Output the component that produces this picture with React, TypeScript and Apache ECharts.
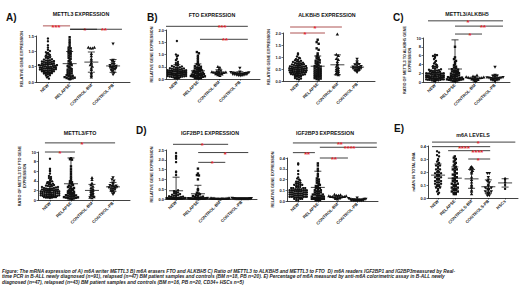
import React, { useEffect, useRef } from "react";
import * as echarts from "echarts";

const FONT = "'Liberation Sans', Arial, sans-serif";
const CATS4 = ["NEW", "RELAPSE", "CONTROL-BM", "CONTROL-PB"];
const CATS5 = ["NEW", "RELAPSE", "CONTROLS-BM", "CONTROLS-PB", "HSCs"];

// A) METTL3 expression
const A_NEW = [0.62,0.45,0.38,0.71,0.55,0.29,0.83,0.47,0.52,0.36,0.66,0.41,0.58,0.33,0.92,0.49,0.27,0.74,0.44,0.61,0.35,1.05,0.53,0.39,0.68,0.22,0.57,0.46,0.8,0.31,0.64,0.5,0.43,0.88,0.37,0.59,0.25,0.97,0.48,0.7,0.34,0.56,0.42,1.12,0.63,0.3,0.77,0.51,0.4,0.18,0.86,0.54,0.45,0.67,0.32,1.2,0.6,0.28,0.73,0.47,0.38,0.95,0.52,0.21,0.65,0.44,1.01,0.35,0.58,0.15,0.79,0.49,0.41,1.33,0.26,0.69,0.55,0.11,0.9,1.42];
const A_REL = [1.46,1.38,1.31,1.25,1.18,1.12,1.1,1.05,1.02,0.98,0.95,0.93,0.9,0.86,0.83,0.79,0.75,0.71,0.68,0.64,0.6,0.58,0.55,0.52,0.5,0.47,0.44,0.42,0.4,0.37,0.35,0.33,0.3,0.28,0.26,0.24,0.22,0.2,0.19,0.17,0.16,0.14,0.13,0.12,0.11,0.1,0.09];
const A_BM = [1.12,1.12,1.1,1.1,0.92,0.85,0.75,0.7,0.62,0.6,0.55,0.5,0.45,0.4,0.3,0.25,0.2,0.15];
const A_PB = [1.25,0.72,0.68,0.65,0.6,0.58,0.55,0.52,0.5,0.5,0.48,0.47,0.45,0.43,0.42,0.4,0.38,0.35,0.3,0.25];

// B) FTO expression
const FTO_NEW = [0.21,0.35,0.12,0.48,0.27,0.08,0.4,0.18,0.3,0.55,0.15,0.24,0.62,0.33,0.05,0.44,0.2,0.28,0.7,0.1,0.37,0.23,0.51,0.14,0.31,0.06,0.42,0.19,0.26,0.83,0.11,0.34,0.58,0.17,0.29,0.04,0.46,0.22,0.38,0.13,0.25,0.65,0.09,0.32,0.2,0.5,0.16,0.27,0.03,0.41,0.23,0.36,0.12,0.92,0.19,0.3,0.07,0.45,0.24,0.15,0.34,0.53,0.1,0.28,0.21,0.39,0.14,1.0,0.26,0.06,0.43,0.18,0.31,0.77,0.13,0.22,0.02,0.36,0.96,1.55];
const FTO_REL = [1.1,1.05,0.95,0.87,0.8,0.72,0.66,0.6,0.56,0.52,0.5,0.47,0.45,0.43,0.41,0.39,0.37,0.35,0.33,0.32,0.3,0.29,0.27,0.26,0.25,0.23,0.22,0.21,0.2,0.18,0.17,0.16,0.15,0.14,0.13,0.12,0.11,0.1,0.09,0.08,0.07,0.06,0.05,0.04,0.03,0.03,0.02];
const FTO_BM = [0.5,0.47,0.4,0.34,0.31,0.29,0.28,0.27,0.26,0.25,0.24,0.24,0.23,0.22,0.2,0.19,0.16,0.13];
const FTO_PB = [0.45,0.3,0.28,0.27,0.26,0.25,0.25,0.24,0.23,0.22,0.22,0.21,0.2,0.2,0.19,0.18,0.17,0.16,0.15,0.13];

// B) ALKBH5 expression
const ALK_NEW = [0.52,0.38,0.71,0.25,0.6,0.45,0.88,0.33,0.55,0.18,0.67,0.42,0.95,0.29,0.5,0.76,0.36,0.62,0.12,0.47,0.82,0.4,0.57,0.22,0.69,0.34,1.02,0.48,0.27,0.63,0.44,0.79,0.3,0.54,0.08,0.73,0.39,0.59,0.2,0.86,0.46,0.35,0.65,0.26,0.51,0.91,0.41,0.15,0.58,0.32,0.75,0.43,0.24,0.68,0.49,1.1,0.37,0.56,0.19,0.8,0.45,0.28,0.61,0.53,0.1,0.72,0.38,0.97,0.31,0.64,0.42,0.23,0.84,0.5,0.35,1.15,0.06,0.7,0.47,0.57];
const ALK_REL = [1.72,1.62,1.55,1.36,1.3,1.15,1.08,1.02,0.98,0.94,0.9,0.87,0.84,0.8,0.77,0.74,0.71,0.68,0.65,0.62,0.6,0.58,0.55,0.53,0.5,0.48,0.46,0.44,0.42,0.4,0.38,0.36,0.34,0.32,0.3,0.28,0.26,0.24,0.22,0.2,0.18,0.16,0.14,0.12,0.1,0.08,0.06];
const ALK_BM = [1.95,1.1,1.05,0.92,0.88,0.8,0.72,0.66,0.6,0.55,0.5,0.46,0.42,0.38,0.33,0.3,0.28,0.25];
const ALK_PB = [0.92,0.81,0.75,0.7,0.68,0.65,0.62,0.6,0.58,0.56,0.55,0.53,0.52,0.5,0.48,0.47,0.45,0.43,0.4,0.37];

// C) METTL3/ALKBH5 ratio
const C_NEW = [1.2,2.1,0.6,1.7,3.0,0.9,2.5,1.4,0.4,1.9,5.8,1.1,2.8,0.7,1.6,3.5,0.5,2.2,1.3,6.1,0.8,1.8,2.6,1.0,4.2,0.3,1.5,2.3,0.9,5.5,1.2,2.0,0.6,3.2,1.7,0.4,2.7,1.1,4.8,0.8,1.4,2.4,0.5,1.9,3.8,1.0,0.7,2.1,5.2,1.3,0.9,2.9,1.6,0.2,2.5,1.2,4.5,0.6,1.8,3.3,1.0,5.9,0.4,1.5,2.2,0.8,1.1,2.0,3.6,0.5,1.7,6.2,0.9,1.4,2.6,0.3,1.3,4.0,0.7,1.9];
const C_REL = [46,8.0,5.6,5.2,4.8,4.5,4.1,3.8,3.5,3.3,3.1,2.9,2.8,2.6,2.5,2.4,2.3,2.2,2.1,2.0,1.9,1.8,1.7,1.6,1.5,1.4,1.3,1.25,1.2,1.1,1.0,0.95,0.9,0.85,0.8,0.75,0.7,0.65,0.6,0.55,0.5,0.45,0.4,0.35,0.3,0.25,0.2];
const C_BM = [1.5,1.3,1.2,1.1,1.05,1.0,0.95,0.9,0.9,0.85,0.8,0.75,0.7,0.6,0.5,0.4,0.3,0.2];
const C_PB = [3.4,1.6,1.4,1.3,1.2,1.1,1.05,1.0,0.95,0.9,0.85,0.8,0.75,0.7,0.6,0.55,0.5,0.4,0.3,0.2];

// C) METTL3/FTO ratio
const MF_NEW = [1.5,2.4,0.8,3.1,1.9,0.5,2.7,1.2,3.6,2.0,0.9,1.6,4.4,2.2,1.0,2.9,0.6,1.8,3.3,1.4,6.2,2.5,0.7,1.7,3.9,1.1,2.1,0.4,2.8,1.3,5.0,1.9,0.9,2.6,1.5,3.4,0.6,2.3,1.2,4.8,1.7,0.8,2.0,3.0,1.4,6.5,0.5,2.4,1.1,1.8,3.7,0.9,2.2,1.6,5.5,1.0,2.7,0.7,1.5,3.2,2.0,1.3,8.6,0.6,2.5,1.8,4.1,1.1,2.9,0.8,1.4,2.1,6.0,1.7,0.5,3.5,1.2,2.3,0.9,4.6];
const MF_REL = [36,8.7,8.5,8.4,7.0,6.4,5.9,5.4,4.9,4.5,4.1,3.9,3.7,3.5,3.3,3.1,3.0,2.8,2.7,2.5,2.4,2.3,2.1,2.0,1.9,1.8,1.7,1.6,1.5,1.4,1.3,1.2,1.1,1.0,0.95,0.9,0.8,0.75,0.7,0.6,0.55,0.5,0.45,0.4,0.35,0.3,0.25];
const MF_BM = [4.6,4.2,3.5,3.1,2.8,2.5,2.3,2.0,1.9,1.7,1.5,1.3,1.2,1.0,0.8,0.6,0.5,0.4];
const MF_PB = [4.7,4.3,4.0,3.6,3.3,3.1,3.0,2.9,2.8,2.7,2.6,2.5,2.4,2.3,2.2,2.0,1.9,1.7,1.5,1.2];

// D) IGF2BP1 expression
const IG1_NEW = [2.35,2.2,2.14,2.05,1.88,1.4,1.36,1.22,0.45,0.4,0.36,0.33,0.3,0.27,0.25,0.22,0.2,0.18,0.16,0.14,0.12,0.11,0.1,0.09,0.08,0.07,0.06,0.05,0.05,0.04,0.04,0.03,0.03,0.03,0.02,0.02,0.02,0.02,0.01,0.01,0.01,0.01,0.01,0.0,0.0];
const IG1_REL = [1.55,1.3,1.22,1.2,1.0,0.5,0.45,0.32,0.28,0.24,0.2,0.17,0.15,0.12,0.1,0.08,0.07,0.06,0.05,0.04,0.04,0.03,0.03,0.03,0.02,0.02,0.02,0.02,0.01,0.01,0.01,0.01,0.0,0.0,0.0];
const IG1_BM = [0.04,0.03,0.03,0.03,0.02,0.02,0.02,0.02,0.02,0.01,0.01,0.01,0.01,0.01,0.01,0.01,0.0,0.0];
const IG1_PB = [0.05,0.04,0.04,0.03,0.03,0.03,0.03,0.02,0.02,0.02,0.02,0.02,0.02,0.02,0.01,0.01,0.01,0.01,0.01,0.01];

// D) IGF2BP3 expression
const IG3_NEW = [0.05,0.12,0.03,0.08,0.15,0.06,0.1,0.02,0.18,0.07,0.04,0.11,0.09,0.2,0.05,0.13,0.03,0.08,0.16,0.06,0.1,0.01,0.14,0.07,0.25,0.04,0.09,0.12,0.05,0.19,0.08,0.03,0.11,0.06,0.35,0.1,0.04,0.15,0.07,0.13,0.02,0.09,0.22,0.05,0.12,0.08,0.17,0.03,0.1,0.06,0.14,0.04,0.34,0.09,0.07,0.11,0.02,0.16,0.05,0.08,0.13,0.06,0.21,0.03,0.1,0.07,0.12,0.04,0.09,0.18,0.05,0.15,0.08,0.01,0.11,0.06,0.28,0.04,0.1,0.07];
const IG3_REL = [0.95,0.35,0.33,0.3,0.28,0.25,0.23,0.21,0.2,0.19,0.18,0.17,0.16,0.15,0.14,0.14,0.13,0.12,0.12,0.11,0.1,0.1,0.09,0.09,0.08,0.08,0.07,0.07,0.06,0.06,0.06,0.05,0.05,0.05,0.04,0.04,0.04,0.03,0.03,0.03,0.03,0.02,0.02,0.02,0.02,0.01,0.01,0.01];
const IG3_BM = [0.06,0.055,0.05,0.05,0.045,0.045,0.04,0.04,0.04,0.04,0.035,0.035,0.03,0.03,0.03,0.025,0.02,0.015];
const IG3_PB = [0.03,0.025,0.02,0.02,0.02,0.015,0.015,0.015,0.01,0.01,0.01,0.01,0.01,0.008,0.008,0.006,0.005,0.005,0.004,0.003];

// E) m6A levels
const E_NEW = [0.36,0.35,0.33,0.32,0.3,0.29,0.28,0.27,0.26,0.25,0.25,0.24,0.23,0.22,0.22,0.21,0.2,0.2,0.19,0.19,0.18,0.18,0.17,0.17,0.16,0.16,0.15,0.15,0.14,0.14,0.13,0.13,0.12,0.12,0.11,0.11,0.1,0.1,0.09,0.09,0.08,0.08,0.07,0.06,0.05,0.04,0.03];
const E_REL = [0.32,0.31,0.3,0.29,0.28,0.27,0.26,0.25,0.24,0.23,0.22,0.22,0.21,0.2,0.19,0.18,0.18,0.17,0.16,0.15,0.15,0.14,0.13,0.13,0.12,0.11,0.11,0.1,0.1,0.09,0.09,0.08,0.08,0.07,0.07,0.06,0.06,0.05,0.05,0.04,0.04,0.03,0.03];
const E_BM = [0.24,0.235,0.23,0.22,0.21,0.2,0.19,0.16,0.14,0.12,0.1,0.09,0.08,0.06,0.05,0.03];
const E_PB = [0.19,0.19,0.16,0.14,0.13,0.12,0.1,0.09,0.08,0.08,0.07,0.07,0.06,0.05,0.05,0.04,0.04,0.03,0.02,0.02];
const E_HSC = [0.15,0.14,0.12,0.1,0.07];

// significance comparisons: from/to group index, y value, stars, star position
type Sig = { a: number; b: number; y: number; t: string; s: number; red?: boolean };
const SIG_A: Sig[] = [
  { a: -0.23, b: 1.02, y: 1.83, t: "***", s: 0.37, red: true },
  { a: 1.02, b: 2.26, y: 1.72, t: "*", s: 1.71 },
  { a: 1.02, b: 3.41, y: 1.72, t: "**", s: 2.58 },
];
const SIG_FTO: Sig[] = [
  { a: -0.52, b: 3.38, y: 2.15, t: "***", s: 2.15 },
  { a: 1.1, b: 3.38, y: 1.62, t: "**", s: 2.29 },
];
const SIG_ALK: Sig[] = [
  { a: -0.4, b: 2.23, y: 2.25, t: "*", s: 0.86, red: true },
  { a: -0.4, b: 1.37, y: 2.0, t: "*", s: 0.36, red: true },
];
const SIG_C: Sig[] = [
  { a: -0.35, b: 3.4, y: 13.9, t: "*", s: 1.65 },
  { a: 1.0, b: 3.4, y: 12.7, t: "**", s: 2.4 },
  { a: 1.0, b: 2.35, y: 10.9, t: "*", s: 1.75 },
];
const SIG_MF: Sig[] = [
  { a: -0.24, b: 1.19, y: 10.0, t: "*", s: 0.48 },
  { a: -0.24, b: 3.1, y: 11.9, t: "*", s: 1.52 },
];
const SIG_IG1: Sig[] = [
  { a: -0.14, b: 2.38, y: 2.79, t: "*", s: 1.19 },
  { a: 1.01, b: 3.3, y: 2.37, t: "*", s: 2.25 },
  { a: 1.01, b: 2.25, y: 1.87, t: "*", s: 1.65 },
];
const SIG_IG3: Sig[] = [
  { a: -0.27, b: 4.0, y: 0.54, t: "**", s: 2.12 },
  { a: 1.1, b: 4.0, y: 0.5, t: "****", s: 2.62 },
  { a: -0.27, b: 0.85, y: 0.45, t: "**", s: 0.45 },
  { a: 1.1, b: 2.53, y: 0.4, t: "**", s: 1.82 },
];
const SIG_E: Sig[] = [
  { a: -0.36, b: 4.61, y: 0.43, t: "*", s: 2.39 },
  { a: -0.36, b: 3.11, y: 0.395, t: "****", s: 1.55 },
  { a: 0.6, b: 3.11, y: 0.364, t: "****", s: 2.35 },
  { a: 1.8, b: 3.11, y: 0.3, t: "*", s: 2.39 },
];

const CAPTION = [
  "Figure: The mRNA expression of A) m6A writer METTL3 B) m6A erasers FTO and ALKBH5 C) Ratio of METTL3 to ALKBH5 and METTL3 to FTO  D) m6A readers IGF2BP1 and IG2BP3measured by Real-",
  "time PCR in B-ALL newly diagnosed (n=91), relapsed (n=47) BM patient samples and controls (BM n=18, PB n=20). E) Percentage of m6A measured by anti-m6A colorimetric assay in B-ALL newly",
  "diagnosed (n=47), relapsed (n=43) BM patient samples and controls (BM n=16, PB n=20, CD34+ HSCs n=5)",
];

type Panel = {
  title: string; tx: number; ty: number; yName: string; groups: number[][]; cats: string[];
  yMax: number; yStep: number; dec: number; left: number; top: number; width: number; height: number;
  c0: number; xMax: number; gap: number; sig: Sig[];
};

const PANELS: Panel[] = [
  { title: "METTL3 EXPRESSION", tx: 81, ty: 14, yName: "RELATIVE GENE EXPRESSION", groups: [A_NEW, A_REL, A_BM, A_PB], cats: CATS4, yMax: 1.5, yStep: 0.5, dec: 1, left: 36, top: 36, width: 94, height: 46, c0: 0.55, xMax: 4.33, gap: 12, sig: SIG_A },
  { title: "FTO EXPRESSION", tx: 212, ty: 15, yName: "RELATIVE GENE EXPRESSION", groups: [FTO_NEW, FTO_REL, FTO_BM, FTO_PB], cats: CATS4, yMax: 2, yStep: 0.5, dec: 1, left: 166, top: 30, width: 94, height: 49, c0: 0.52, xMax: 4.48, gap: 12, sig: SIG_FTO },
  { title: "ALKBH5 EXPRESSION", tx: 327, ty: 15, yName: "RELATIVE GENE EXPRESSION", groups: [ALK_NEW, ALK_REL, ALK_BM, ALK_PB], cats: CATS4, yMax: 2, yStep: 0.5, dec: 1, left: 283, top: 33, width: 92, height: 48, c0: 0.76, xMax: 4.67, gap: 12, sig: SIG_ALK },
  { title: "METTL3/ALKBH5", tx: 467, ty: 14, yName: "RATIO OF METTL3 TO ALKBH5 GENE\nEXPRESSION", groups: [C_NEW, C_REL, C_BM, C_PB], cats: CATS4, yMax: 10, yStep: 2, dec: 0, left: 423, top: 38, width: 87, height: 44, c0: 0.6, xMax: 4.35, gap: 9, sig: SIG_C },
  { title: "METTL3/FTO", tx: 80, ty: 133, yName: "RATIO OF METTL3 TO FTO GENE\nEXPRESSION", groups: [MF_NEW, MF_REL, MF_BM, MF_PB], cats: CATS4, yMax: 10, yStep: 2, dec: 0, left: 38, top: 152, width: 92, height: 48, c0: 0.57, xMax: 4.38, gap: 11, sig: SIG_MF },
  { title: "IGF2BP1 EXPRESSION", tx: 210, ty: 133, yName: "RELATIVE GENE EXPRESSION", groups: [IG1_NEW, IG1_REL, IG1_BM, IG1_PB], cats: CATS4, yMax: 2.5, yStep: 0.5, dec: 1, left: 166, top: 150, width: 91, height: 49, c0: 0.46, xMax: 4.16, gap: 9, sig: SIG_IG1 },
  { title: "IGF2BP3 EXPRESSION", tx: 325, ty: 133, yName: "RELATIVE GENE EXPRESSION", groups: [IG3_NEW, IG3_REL, IG3_BM, IG3_PB], cats: CATS4, yMax: 0.4, yStep: 0.1, dec: 1, left: 287, top: 158, width: 91, height: 43, c0: 0.57, xMax: 4.63, gap: 9, sig: SIG_IG3 },
  { title: "m6A LEVELS", tx: 473, ty: 135, yName: "m6A% IN TOTAL RNA", groups: [E_NEW, E_REL, E_BM, E_PB, E_HSC], cats: CATS5, yMax: 0.4, yStep: 0.1, dec: 1, left: 428, top: 146, width: 90, height: 52, c0: 0.6, xMax: 5.37, gap: 9.5, sig: SIG_E },
];

const LETTERS: [string, number, number][] = [
  ["A)", 6, 17], ["B)", 147, 17], ["C)", 393, 17], ["D)", 136, 130], ["E)", 394, 128],
];

function mean(a: number[]) { return a.reduce((s, v) => s + v, 0) / a.length; }
function sd(a: number[]) {
  const m = mean(a);
  return Math.sqrt(a.reduce((s, v) => s + (v - m) * (v - m), 0) / Math.max(1, a.length - 1));
}

// beeswarm offsets in pixels, computed from the values
function swarm(vals: number[], ppu: number, step: number, maxHalf: number): number[] {
  const bins = new Map<number, number[]>();
  vals.forEach((v, i) => {
    const b = Math.round((v * ppu) / step);
    if (!bins.has(b)) bins.set(b, []);
    bins.get(b)!.push(i);
  });
  const off = new Array(vals.length).fill(0);
  bins.forEach((idx) => {
    idx.sort((p, q) => vals[p] - vals[q]);
    const k = idx.length;
    let s = step;
    if (((k - 1) * s) / 2 > maxHalf) s = (2 * maxHalf) / Math.max(1, k - 1);
    const order: number[] = [];
    for (let j = 0; j < k; j++) order.push(j % 2 === 0 ? j / 2 : -(j + 1) / 2);
    const shift = k % 2 === 0 ? 0.5 : 0;
    idx.forEach((id, j) => { off[id] = (order[j] + shift) * s; });
  });
  return off;
}

const INK = "#111";
const STAR = "#e3242b";

function renderPoint(_params: any, api: any) {
  const c = api.coord([api.value(0), api.value(1)]);
  const x = c[0] + api.value(2);
  const y = c[1];
  const m = api.value(3);
  const r = 1.2;
  const style = { fill: INK };
  if (m === 1) return { type: "rect", shape: { x: x - r, y: y - r, width: 2 * r, height: 2 * r }, style };
  if (m === 2) return { type: "polygon", shape: { points: [[x, y - 1.5 * r], [x - 1.4 * r, y + r], [x + 1.4 * r, y + r]] }, style };
  if (m === 3) return { type: "polygon", shape: { points: [[x, y + 1.5 * r], [x - 1.4 * r, y - r], [x + 1.4 * r, y - r]] }, style };
  return { type: "circle", shape: { cx: x, cy: y, r }, style };
}

function renderErr(_params: any, api: any) {
  const cm = api.coord([api.value(0), api.value(1)]);
  const lo = api.coord([api.value(0), api.value(2)]);
  const hi = api.coord([api.value(0), api.value(3)]);
  const x = cm[0];
  const st = { stroke: INK, lineWidth: 0.8 };
  return {
    type: "group",
    children: [
      { type: "line", shape: { x1: x - 7, y1: cm[1], x2: x + 7, y2: cm[1] }, style: st },
      { type: "line", shape: { x1: x, y1: lo[1], x2: x, y2: hi[1] }, style: st },
      { type: "line", shape: { x1: x - 3.5, y1: lo[1], x2: x + 3.5, y2: lo[1] }, style: st },
      { type: "line", shape: { x1: x - 3.5, y1: hi[1], x2: x + 3.5, y2: hi[1] }, style: st },
    ],
  };
}

function buildOption() {
  const grid: any[] = [];
  const xAxis: any[] = [];
  const yAxis: any[] = [];
  const series: any[] = [];
  const graphic: any[] = [];

  PANELS.forEach((p, i) => {
    const catPos = p.cats.map((_, k) => p.c0 + k);
    const spacingPx = p.width / p.xMax;
    const ppu = p.height / p.yMax;
    grid.push({ left: p.left, top: p.top, width: p.width, height: p.height });
    xAxis.push({
      type: "value", gridIndex: i, min: 0, max: p.xMax,
      axisLine: { show: true, onZero: false, lineStyle: { color: INK, width: 0.8 } },
      axisTick: { show: true, customValues: catPos, length: 1.5, lineStyle: { color: INK, width: 0.6 } },
      axisLabel: {
        show: true, customValues: catPos, rotate: 45, fontSize: 4.3, fontWeight: "bold",
        fontFamily: FONT, color: "#222", margin: 2.5,
        formatter: (v: number) => p.cats[Math.round(v - p.c0)] ?? "",
      },
      splitLine: { show: false },
    });
    yAxis.push({
      type: "value", gridIndex: i, min: 0, max: p.yMax, interval: p.yStep,
      name: p.yName, nameLocation: "middle", nameGap: p.gap, nameRotate: 90,
      nameTextStyle: { fontSize: 3.8, fontWeight: "bold", fontFamily: FONT, color: "#222", lineHeight: 5 },
      axisLine: { show: true, lineStyle: { color: INK, width: 0.8 } },
      axisTick: { show: true, length: 1.5, lineStyle: { color: INK, width: 0.6 } },
      axisLabel: {
        show: true, fontSize: 4, fontWeight: "bold", fontFamily: FONT, color: "#222", margin: 2,
        formatter: (v: number) => v.toFixed(p.dec),
      },
      splitLine: { show: false },
    });

    const pts: number[][] = [];
    p.groups.forEach((g, k) => {
      const offs = swarm(g, ppu, 2.0, 0.44 * spacingPx);
      g.forEach((v, j) => { if (v <= p.yMax) pts.push([p.c0 + k, v, offs[j], k === 4 ? 0 : k]); });
    });
    series.push({
      type: "custom", xAxisIndex: i, yAxisIndex: i, data: pts, clip: false, silent: true,
      encode: { x: 0, y: 1 }, renderItem: renderPoint,
    });

    const eb = p.groups.map((g, k) => {
      const m = mean(g);
      const s = sd(g);
      return [p.c0 + k, m, Math.max(0, m - s), Math.min(p.yMax, m + s)];
    });
    series.push({
      type: "custom", xAxisIndex: i, yAxisIndex: i, data: eb, clip: false, silent: true,
      encode: { x: 0, y: 1 }, renderItem: renderErr,
    });

    const sg = p.sig.map((s) => [p.c0 + s.a, s.y, p.c0 + s.b, p.c0 + s.s]);
    series.push({
      type: "custom", xAxisIndex: i, yAxisIndex: i, data: sg, clip: false, silent: true,
      encode: { x: 0, y: 1 },
      renderItem: (params: any, api: any) => {
        const s = p.sig[params.dataIndex];
        const a = api.coord([api.value(0), api.value(1)]);
        const b = api.coord([api.value(2), api.value(1)]);
        const st = api.coord([api.value(3), api.value(1)]);
        return {
          type: "group",
          children: [
            { type: "line", shape: { x1: a[0], y1: a[1], x2: b[0], y2: b[1] }, style: { stroke: s.red ? "#9a2a2a" : INK, lineWidth: 0.8 } },
            {
              type: "text",
              style: {
                text: s.t, x: st[0], y: a[1] + 1.6, fill: STAR, fontSize: 7.5, fontWeight: "bold",
                fontFamily: FONT, align: "center", verticalAlign: "middle",
              },
            },
          ],
        };
      },
    });

    graphic.push({
      type: "text", x: p.tx, y: p.ty, silent: true,
      style: { text: p.title, fill: INK, fontSize: 5.3, fontWeight: "bold", fontFamily: FONT, align: "center", verticalAlign: "middle" },
    });
  });

  LETTERS.forEach(([t, x, y]) => {
    graphic.push({
      type: "text", x, y, silent: true,
      style: { text: t, fill: INK, fontSize: 10, fontWeight: "bold", fontFamily: FONT, align: "left", verticalAlign: "middle" },
    });
  });

  CAPTION.forEach((line, k) => {
    graphic.push({
      type: "text", x: 2, y: 271 + k * 5.5, silent: true,
      style: { text: line, fill: "#222", fontSize: 4.8, fontWeight: "bold", fontStyle: "italic", fontFamily: FONT, align: "left", verticalAlign: "middle" },
    });
  });

  return { animation: false, backgroundColor: "#fff", grid, xAxis, yAxis, series, graphic };
}

export default function App() {
  const ref = useRef<HTMLDivElement>(null);
  useEffect(() => {
    const chart = echarts.init(ref.current!, undefined, { renderer: "svg", width: 520, height: 292 });
    chart.setOption(buildOption());
    return () => chart.dispose();
  }, []);
  return (
    <div
      ref={ref}
      style={{ position: "fixed", left: 0, top: 0, width: 520, height: 292, background: "#fff" }}
    />
  );
}
